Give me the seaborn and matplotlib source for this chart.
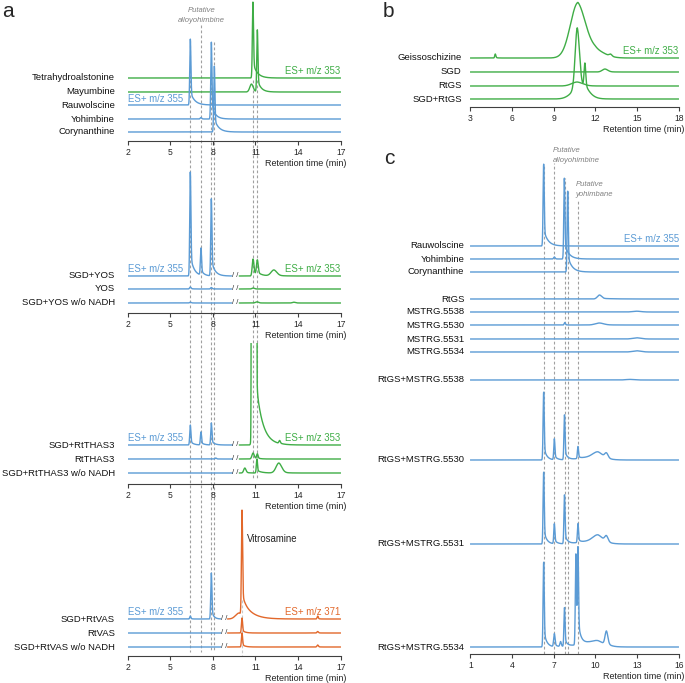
import numpy as np
import matplotlib
matplotlib.use("Agg")
import matplotlib.pyplot as plt
import seaborn as sns

sns.set_style("ticks")
plt.rcParams["font.family"] = ["Liberation Sans", "DejaVu Sans"]

# ---- data: peaks per trace as (retention time, height, width, tail) ----
# panel a, standards (m/z 353 green, m/z 355 blue)
a1_labels = ["Tetrahydroalstonine", "Mayumbine", "Rauwolscine", "Yohimbine", "Corynanthine"]
a1_peaks = [
    [(10.82, 76, 0.04, 0.3)],
    [(10.72, 8, 0.12, 0.2), (11.13, 62, 0.04, 0.25)],
    [(6.41, 66, 0.04, 0.3)],
    [(7.16, 1.5, 0.05, 0.1), (7.89, 77, 0.04, 0.25)],
    [(8.10, 66, 0.04, 0.3)],
]

# panel a, YOS assays
a2_labels = ["SGD+YOS", "YOS", "SGD+YOS w/o NADH"]
a2_left = [
    [(6.41, 104, 0.04, 0.25), (7.16, 27, 0.04, 0.2), (7.89, 77, 0.04, 0.25)],
    [(6.41, 2, 0.05, 0.2), (7.89, 1.5, 0.05, 0.2)],
    [(6.41, 0.8, 0.05, 0.2)],
]
a2_right = [
    [(10.83, 17, 0.06, 0.3), (11.13, 15, 0.06, 0.3), (12.3, 6, 0.2, 0.4)],
    [(10.83, 1, 0.08, 0.2)],
    [(11.1, 1.2, 0.1, 0.2), (13.7, 0.8, 0.1, 0.2)],
]

# panel a, RtTHAS3 assays
a3_labels = ["SGD+RtTHAS3", "RtTHAS3", "SGD+RtTHAS3 w/o NADH"]
a3_left = [
    [(6.41, 20, 0.04, 0.2), (7.16, 13, 0.04, 0.2), (7.89, 22, 0.04, 0.2)],
    [(8.2, 1, 0.05, 0.1)],
    [],
]
a3_right = [
    [(10.72, 300, 0.02, 0.05), (10.9, 300, 0.08, 0.05), (11.06, 300, 0.02, 0.45), (12.7, 3, 0.05, 0.2)],
    [(10.83, 6, 0.08, 0.2), (11.13, 5, 0.05, 0.2)],
    [(10.25, 5, 0.08, 0.2), (11.1, 14, 0.04, 0.3), (12.65, 10, 0.2, 0.3)],
]

# panel a, RtVAS assays (m/z 371 orange)
a4_labels = ["SGD+RtVAS", "RtVAS", "SGD+RtVAS w/o NADH"]
a4_left = [
    [(6.41, 3, 0.04, 0.1), (7.89, 46, 0.04, 0.15)],
    [],
    [],
]
a4_right = [
    [(9.85, 6, 0.25, 0.2), (10.05, 105, 0.04, 0.6), (15.38, 3, 0.04, 0.1)],
    [(10.05, 15, 0.04, 0.2), (15.38, 1.5, 0.05, 0.1)],
    [(10.05, 14, 0.04, 0.2), (15.38, 2, 0.05, 0.1)],
]

# panel b, geissoschizine
b_labels = ["Geissoschizine", "SGD", "RtGS", "SGD+RtGS"]
b_peaks = [
    [(4.8, 4, 0.04, 0.1), (10.75, 54, 0.55, 0.5), (12.0, 8, 0.7, 0.3), (13.1, 2, 0.1, 0.1)],
    [(12.7, 3, 0.2, 0.3)],
    [(10.7, 4, 0.4, 0.5)],
    [(10.7, 60, 0.15, 0.3), (11.25, 25, 0.06, 0.3), (10.9, 12, 0.55, 0.5)],
]

# panel c, MSTRG candidates (m/z 355)
c_labels = ["Rauwolscine", "Yohimbine", "Corynanthine", "RtGS", "MSTRG.5538",
            "MSTRG.5530", "MSTRG.5531", "MSTRG.5534", "RtGS+MSTRG.5538",
            "RtGS+MSTRG.5530", "RtGS+MSTRG.5531", "RtGS+MSTRG.5534"]
c_peaks = [
    [(6.28, 82, 0.04, 0.3)],
    [(7.05, 2, 0.05, 0.1), (7.77, 81, 0.04, 0.3)],
    [(8.01, 81, 0.04, 0.3)],
    [(10.3, 4, 0.15, 0.8)],
    [(13.0, 0.8, 0.3, 0.3)],
    [(7.8, 2.5, 0.04, 0.1), (10.3, 2, 0.3, 0.5)],
    [(13.0, 1.2, 0.3, 0.3)],
    [(13.0, 1.2, 0.3, 0.3)],
    [(12.5, 0.6, 0.3, 0.3)],
    [(6.28, 68, 0.04, 0.2), (7.05, 21, 0.04, 0.2), (7.78, 45, 0.04, 0.2), (8.75, 12, 0.04, 0.15),
     (9.7, 3, 0.8, 0.5), (10.2, 6, 0.35, 0.3), (10.8, 5, 0.12, 0.3)],
    [(6.28, 72, 0.04, 0.2), (7.05, 20, 0.04, 0.2), (7.78, 49, 0.04, 0.2), (8.75, 19, 0.04, 0.15),
     (9.7, 3, 0.8, 0.5), (10.2, 7, 0.35, 0.3), (10.8, 6, 0.12, 0.3)],
    [(6.28, 85, 0.04, 0.2), (7.05, 13, 0.05, 0.2), (7.5, 5, 0.05, 0.1), (7.78, 39, 0.04, 0.2),
     (8.6, 91, 0.04, 0.15), (8.75, 91, 0.04, 0.2), (9.5, 4, 0.8, 0.5), (10.2, 4, 0.4, 0.3),
     (10.8, 14, 0.1, 0.3)],
]

a_ticks = [2, 5, 8, 11, 14, 17]
b_ticks = [3, 6, 9, 12, 15, 18]
c_ticks = [1, 4, 7, 10, 13, 16]
a_marks = [6.41, 7.16, 7.89, 8.10]
a_marks2 = [10.83, 11.13]
c_marks = [6.28, 7.04, 7.80, 8.03, 8.75]

# ---- style ----
BLUE, GREEN, ORANGE = "#5b9bd5", "#3fad46", "#e2682b"
GREY = "#a0a0a0"
W, H = 685, 683
TAIL = 0.2


def trace(x, peaks):
    y = np.zeros_like(x)
    for rt, h, w, tau in peaks:
        d = x - rt
        g = np.exp(-0.5 * (d / w) ** 2)
        t = np.exp(-np.clip(d, 0, None) / tau)
        y += h * np.where(d < 0, g, (1 - TAIL) * g + TAIL * t)
    return y


def draw(ax, lo, hi, peaks, off, color):
    x = np.linspace(lo, hi, 3000)
    y = trace(x, peaks) + off
    sns.lineplot(x=x, y=y, ax=ax, color=color, lw=1.0, estimator=None, sort=False)


def rect(x0, x1, ytop, ybot):
    return [x0 / W, 1 - ybot / H, (x1 - x0) / W, (ybot - ytop) / H]


def make_axes(x0, x1, ytop, ybot, lim, ticks):
    ax = fig.add_axes(rect(x0, x1, ytop, ybot))
    ax.patch.set_alpha(0)
    ax.set_xlim(*lim)
    ax.set_ylim(0, ybot - ytop)
    for s in ["left", "right", "top"]:
        ax.spines[s].set_visible(False)
    ax.spines["bottom"].set_color("#404040")
    ax.spines["bottom"].set_linewidth(0.8)
    ax.set_yticks([])
    ax.set_xticks(ticks)
    ax.tick_params(axis="x", length=3, width=0.8, color="#404040", pad=2.2, labelsize=6.2)
    ax.annotate("Retention time (min)", xy=(1, 0), xycoords="axes fraction",
                xytext=(4, -16), textcoords="offset points", ha="right", va="center",
                fontsize=6.5, color="#222222")
    return ax


def labels(ax, names, offs, gap):
    tr = matplotlib.transforms.blended_transform_factory(ax.transAxes, ax.transData)
    for name, off in zip(names, offs):
        ax.text(-gap, off, name, transform=tr, ha="right", va="center", fontsize=6.8, color="#111111")


def brk(ax, x, offs):
    for off in offs:
        ax.text(x, off, "/ /", ha="center", va="center", fontsize=5.5, color="#333333")


fig = plt.figure(figsize=(W / 100, H / 100), dpi=100)

AX0, AX1 = 127.7, 340.7
BX0, BX1 = 470.3, 678.7

# dashed guide lines across panel a
ov = fig.add_axes(rect(AX0, AX1, 0, H))
ov.set_xlim(2, 17)
ov.set_ylim(H, 0)
ov.axis("off")
ov.patch.set_alpha(0)
for x, y0 in zip(a_marks, [40, 25, 42, 42]):
    ov.plot([x, x], [y0, 652], ls=(0, (2.5, 2)), lw=0.8, color=GREY)
for x in a_marks2:
    ov.plot([x, x], [80, 478], ls=(0, (2.5, 2)), lw=0.8, color=GREY)
ov.plot([10.05, 10.05], [600, 656], ls=(0, (2.5, 2)), lw=0.8, color="#c8c8c8")
ov.text(7.21, 11, "Putative", ha="center", va="center", fontsize=5.5, style="italic", color="#808080")
ov.text(7.21, 21, "alloyohimbine", ha="center", va="center", fontsize=5.5, style="italic", color="#808080")

# a1: standards
ax = make_axes(AX0, AX1, 0, 141, (2, 17), a_ticks)
offs = [63, 49, 36, 22, 9]
cols = [GREEN, GREEN, BLUE, BLUE, BLUE]
for pk, off, c in zip(a1_peaks, offs, cols):
    draw(ax, 2, 17, pk, off, c)
labels(ax, a1_labels, offs, 0.06)
ax.text(2, 42, "ES+ m/z 355", ha="left", va="center", fontsize=6.9, color=BLUE)
ax.text(17, 70, "ES+ m/z 353", ha="right", va="center", fontsize=6.9, color=GREEN)

# a2..a4: enzyme assays with broken axis
panels = [
    (a2_labels, a2_left, a2_right, 165, 313, [37, 24, 10], GREEN, 9.32, 9.86, 9.58, "ES+ m/z 353", 44),
    (a3_labels, a3_left, a3_right, 343, 484, [39, 25, 11], GREEN, 9.37, 9.86, 9.6, "ES+ m/z 353", 46),
    (a4_labels, a4_left, a4_right, 505, 656, [37, 23, 9], ORANGE, 8.55, 9.03, 8.78, "ES+ m/z 371", 44),
]
for names, left, right, ytop, ybot, offs, rc, lend, rstart, bx, rtxt, ty in panels:
    ax = make_axes(AX0, AX1, ytop, ybot, (2, 17), a_ticks)
    for pl, pr, off in zip(left, right, offs):
        draw(ax, 2, lend, pl, off, BLUE)
        draw(ax, rstart, 17, pr, off, rc)
    brk(ax, bx, offs)
    labels(ax, names, offs, 0.06)
    ax.text(2, ty, "ES+ m/z 355", ha="left", va="center", fontsize=6.9, color=BLUE)
    ax.text(17, ty, rtxt, ha="right", va="center", fontsize=6.9, color=rc)
    if rc == ORANGE:
        ax.text(10.4, ybot - 539, "Vitrosamine", ha="left", va="center", fontsize=6.9, color="#222222")

# b: geissoschizine
ax = make_axes(BX0, BX1, 0, 107, (3, 18), b_ticks)
offs = [49, 35, 21, 8]
for pk, off in zip(b_peaks, offs):
    draw(ax, 3, 18, pk, off, GREEN)
labels(ax, b_labels, offs, 0.041)
ax.text(18, 56, "ES+ m/z 353", ha="right", va="center", fontsize=6.9, color=GREEN)

# c: MSTRG candidates
ax = make_axes(BX0, BX1, 140, 654, (1, 16), c_ticks)
offs = [408, 395, 382, 355, 342, 329, 315, 302, 274, 194, 110, 7]
for x, y0 in zip(c_marks, [165, 163, 178, 191, 200]):
    ax.plot([x, x], [0, 654 - y0], ls=(0, (2.5, 2)), lw=0.8, color=GREY, zorder=0)
for pk, off in zip(c_peaks, offs):
    draw(ax, 1, 16, pk, off, BLUE)
labels(ax, c_labels, offs, 0.029)
ax.text(16, 415, "ES+ m/z 355", ha="right", va="center", fontsize=6.9, color=BLUE)
ax.text(6.93, 504, "Putative", ha="left", va="center", fontsize=5.5, style="italic", color="#808080")
ax.text(6.93, 494, "alloyohimbine", ha="left", va="center", fontsize=5.5, style="italic", color="#808080")
ax.text(8.56, 469, "Putative", ha="left", va="center", fontsize=5.5, style="italic", color="#808080")
ax.text(8.56, 460, "yohimbane", ha="left", va="center", fontsize=5.5, style="italic", color="#808080")

# panel letters
fig.text(2 / W, 1 - 17 / H, "a", fontsize=15, ha="left", va="baseline")
fig.text(383 / W, 1 - 17 / H, "b", fontsize=15, ha="left", va="baseline")
fig.text(384 / W, 1 - 164 / H, "c", fontsize=15, ha="left", va="baseline")

plt.savefig("out.png", dpi=100)
